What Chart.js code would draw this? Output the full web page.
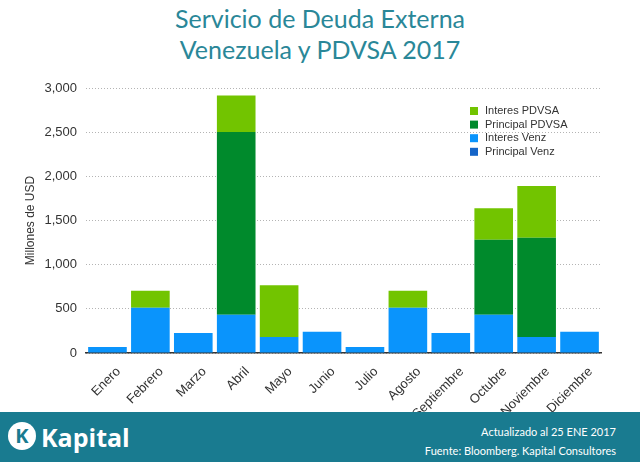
<!DOCTYPE html>
<html>
<head>
<meta charset="utf-8">
<script src="https://cdn.jsdelivr.net/npm/chart.js@4"></script>
<style>
  body { margin: 0; width: 640px; height: 462px; background: #fff; position: relative; overflow: hidden; }
  .title { position: absolute; top: 3px; left: 0; width: 640px; text-align: center; color: #2a8798;
    font-family: Lato, sans-serif; font-size: 25px; line-height: 31px; }
  .wrap { position: absolute; top: 70px; left: 0; width: 640px; height: 355px; }
  .footer { position: absolute; top: 412px; left: 0; width: 640px; height: 50px; background: #197b90; z-index: 2; color: #fff; }
  .logo { position: absolute; left: 8px; top: 10px; font-family: "Open Sans", sans-serif; font-weight: 700; font-size: 25px; line-height: 30px; }
  .logo .k { display: inline-block; width: 28px; height: 28px; border-radius: 50%; background: #fff; color: #197b90;
    font-size: 20px; line-height: 28px; text-align: center; vertical-align: top; margin-right: 5px; }
  .src { position: absolute; right: 24px; top: 10px; text-align: right; font-family: Lato, sans-serif; font-size: 11px; line-height: 19px; }
</style>
</head>
<body>
<div class="title">Servicio de Deuda Externa<br>Venezuela y PDVSA 2017</div>
<div class="wrap"><canvas id="myChart"></canvas></div>
<div class="footer">
  <div class="logo"><span class="k">K</span>Kapital</div>
  <div class="src">Actualizado al 25 ENE 2017<br>Fuente: Bloomberg. Kapital Consultores</div>
</div>
<script>
const months = ["Enero", "Febrero", "Marzo", "Abril", "Mayo", "Junio", "Julio", "Agosto", "Septiembre", "Octubre", "Noviembre", "Diciembre"];
const principalVenz = [0, 0, 0, 0, 0, 0, 0, 0, 0, 0, 0, 0];
const interesVenz = [68, 513, 226, 434, 181, 241, 68, 513, 226, 434, 181, 241];
const principalPdvsa = [0, 0, 0, 2068, 0, 0, 0, 0, 0, 849, 1125, 0];
const interesPdvsa = [0, 192, 0, 412, 585, 0, 0, 192, 0, 355, 585, 0];
const yTicks = [0, 500, 1000, 1500, 2000, 2500, 3000];

// legend drawn inside the plot, top series first
const insideLegend = {
  id: "insideLegend",
  afterDraw(chart) {
    const c = chart.ctx;
    const sets = chart.data.datasets.slice().reverse();
    c.save();
    c.font = "11px 'Liberation Sans', Arial, sans-serif";
    c.textBaseline = "middle";
    sets.forEach((ds, i) => {
      const y = 41 + i * 13.6;
      c.fillStyle = ds.backgroundColor;
      c.fillRect(470, y - 4, 8, 8);
      c.fillStyle = "#333";
      c.fillText(ds.label, 485, y);
    });
    c.restore();
  },
};

const ctx = document.getElementById("myChart");

new Chart(ctx, {
  type: "bar",
  data: {
    labels: months,
    datasets: [
      {label: "Principal Venz", data: principalVenz, backgroundColor: "#1565c8"},
      {label: "Interes Venz", data: interesVenz, backgroundColor: "#0a94fc"},
      {label: "Principal PDVSA", data: principalPdvsa, backgroundColor: "#008a2c"},
      {label: "Interes PDVSA", data: interesPdvsa, backgroundColor: "#72c400"},
    ],
  },
  options: {
    responsive: true,
    maintainAspectRatio: false,
    animation: false,
    datasets: {
      bar: {barPercentage: 0.9, categoryPercentage: 1.0},
    },
    layout: {
      padding: {top: 18, right: 39, bottom: 0, left: 0},
    },
    plugins: {
      legend: {display: false},
      tooltip: {enabled: false},
    },
    scales: {
      x: {
        stacked: true,
        grid: {display: false},
        border: {display: true, color: "#333", width: 1.5},
        ticks: {
          color: "#333",
          font: {family: "'Liberation Sans', Arial, sans-serif", size: 13},
          maxRotation: 45,
          minRotation: 45,
          padding: 3,
          labelOffset: 11,
        },
        afterFit: (s) => { s.height = 72; },
      },
      y: {
        stacked: true,
        min: 0,
        max: 3000,
        afterBuildTicks: (s) => { s.ticks = yTicks.map((v) => ({value: v})); },
        grid: {color: "#b4b4b4", drawTicks: false, lineWidth: 1},
        border: {display: false, dash: [1, 2]},
        ticks: {
          color: "#333",
          padding: 9,
          font: {family: "'Liberation Sans', Arial, sans-serif", size: 13},
          callback: (v) => v.toLocaleString("en-US"),
        },
        title: {
          display: true,
          text: "Millones de USD",
          color: "#333",
          font: {family: "'Liberation Sans', Arial, sans-serif", size: 12},
          padding: {top: 23, bottom: 0},
        },
        afterFit: (s) => { s.width = 86; },
      },
    },
  },
  plugins: [insideLegend],
});
</script>
</body>
</html>
